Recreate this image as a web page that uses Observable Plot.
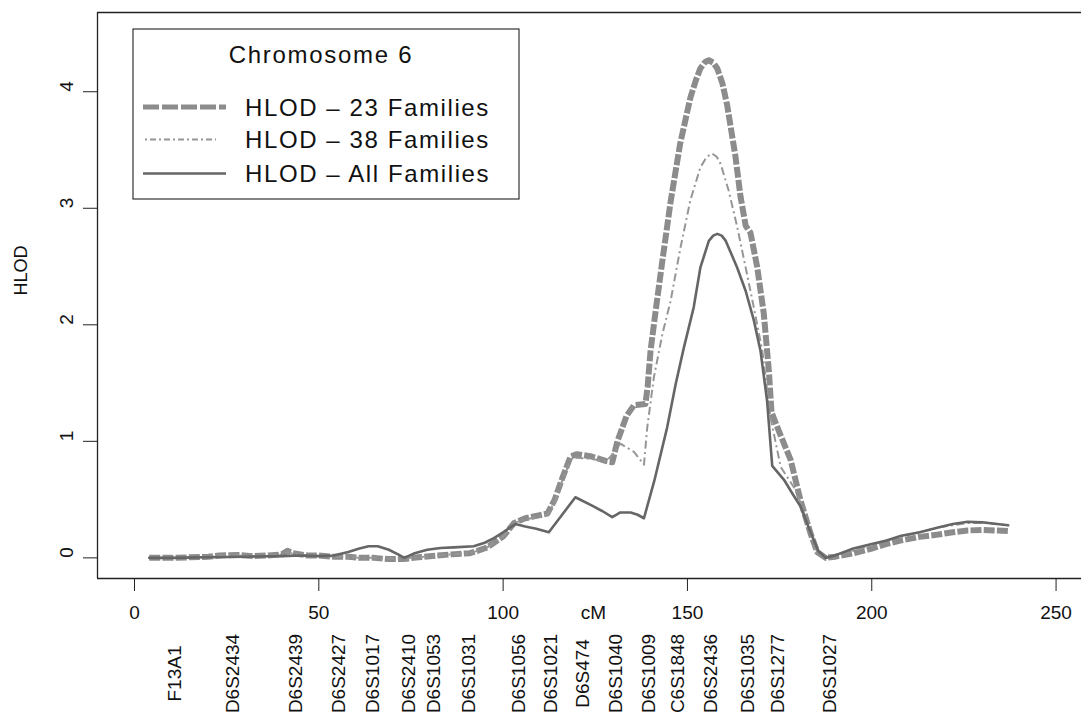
<!DOCTYPE html>
<html>
<head>
<meta charset="utf-8">
<script src="https://cdn.jsdelivr.net/npm/d3@7"></script>
<script src="https://cdn.jsdelivr.net/npm/@observablehq/plot@0.6"></script>
<style>
  html, body { margin: 0; padding: 0; background: #fff; }
  #chart { width: 1081px; height: 715px; }
</style>
</head>
<body>
<div id="chart"></div>
<script>
// ---- data ----
const cm23 = [4, 10, 15, 20, 23, 28, 32, 36, 40, 41.5, 43, 47, 50, 54, 58, 61, 65, 68.6, 73, 77, 82, 86, 91, 93, 95.7, 98, 100.2, 103, 106, 109, 112, 114, 116, 118.3, 120, 124, 128, 129.6, 131, 133.5, 135.5, 138.6, 139.2, 140, 141.5, 143.2, 145.4, 148, 150.8, 152.3, 153.5, 154.8, 155.8, 157, 158.1, 159.5, 160.8, 163, 164.4, 165.8, 167.1, 168.9, 170.7, 172.1, 172.8, 174.4, 178, 180.7, 183.4, 185.2, 187.5, 190, 195, 200, 204, 208, 213, 218, 222, 226, 230, 234, 237];
const hlod23 = [0, 0, 0.005, 0.01, 0.02, 0.025, 0.015, 0.02, 0.03, 0.06, 0.04, 0.02, 0.02, 0.01, 0.01, 0, 0, -0.01, -0.01, 0.005, 0.02, 0.03, 0.04, 0.06, 0.09, 0.14, 0.19, 0.3, 0.34, 0.36, 0.38, 0.5, 0.68, 0.87, 0.89, 0.87, 0.83, 0.82, 1.0, 1.22, 1.31, 1.32, 1.47, 1.78, 2.15, 2.55, 3.05, 3.55, 3.95, 4.1, 4.2, 4.255, 4.27, 4.25, 4.2, 4.07, 3.88, 3.45, 3.1, 2.85, 2.79, 2.5, 2.1, 1.6, 1.25, 1.12, 0.84, 0.49, 0.21, 0.05, 0, 0.01, 0.04, 0.08, 0.12, 0.15, 0.18, 0.2, 0.22, 0.235, 0.24, 0.235, 0.23];

const cm38 = [4, 10, 15, 20, 23, 28, 32, 36, 40, 41.5, 43, 47, 50, 54, 58, 61, 65, 68.6, 73, 77, 82, 86, 91, 93, 95.7, 98, 100.2, 103, 106, 109, 112, 114, 116, 118.3, 120, 124, 128, 130, 131.8, 135.5, 138.2, 139.1, 140.9, 143.2, 145.4, 148.1, 150.8, 153.5, 155.2, 156.7, 158, 159, 161.2, 163.5, 165.8, 168, 170.3, 172.5, 175.3, 179, 181, 183.4, 185.2, 187.5, 190, 195, 200, 204, 208, 213, 218, 222, 226, 230, 234, 237];
const hlod38 = [0, 0, 0.005, 0.01, 0.02, 0.02, 0.015, 0.02, 0.03, 0.05, 0.035, 0.02, 0.02, 0.01, 0.01, 0, 0, -0.005, -0.005, 0.005, 0.02, 0.03, 0.04, 0.06, 0.09, 0.14, 0.19, 0.3, 0.33, 0.35, 0.37, 0.48, 0.66, 0.84, 0.86, 0.85, 0.83, 0.9, 0.98, 0.91, 0.8, 1.12, 1.55, 1.92, 2.2, 2.66, 3.07, 3.35, 3.44, 3.47, 3.44, 3.38, 3.15, 2.84, 2.49, 2.15, 1.78, 1.21, 0.78, 0.6, 0.45, 0.2, 0.05, 0, 0.02, 0.06, 0.11, 0.15, 0.18, 0.22, 0.26, 0.28, 0.3, 0.3, 0.29, 0.28];

const cmAll = [4, 10, 20, 30, 40, 45, 50, 54, 58, 61, 63.5, 66, 69, 71.5, 73.2, 76, 79.4, 83, 86.6, 92, 95, 97.5, 100, 103.3, 106, 109, 112.4, 116, 119.6, 124, 127, 129.6, 131.8, 134.6, 136.5, 138.2, 141, 144.5, 146.8, 149, 151.7, 153.5, 155.8, 157, 158.1, 159.3, 160.4, 163.5, 165.8, 168, 169.8, 171.6, 173, 176.2, 178.5, 180.7, 183.4, 185.5, 187.5, 190, 195, 200, 204, 208, 213, 218, 222, 226, 230, 234, 237];
const hlodAll = [0, 0, 0.005, 0.01, 0.015, 0.02, 0.015, 0.02, 0.05, 0.08, 0.1, 0.1, 0.07, 0.03, 0, 0.04, 0.07, 0.085, 0.09, 0.1, 0.13, 0.17, 0.22, 0.29, 0.27, 0.25, 0.22, 0.37, 0.52, 0.45, 0.4, 0.35, 0.39, 0.39, 0.37, 0.34, 0.66, 1.12, 1.49, 1.8, 2.15, 2.49, 2.72, 2.765, 2.78, 2.765, 2.72, 2.49, 2.29, 2.04, 1.78, 1.35, 0.79, 0.67, 0.55, 0.44, 0.22, 0.06, 0, 0.02, 0.08, 0.12, 0.15, 0.19, 0.22, 0.26, 0.29, 0.31, 0.305, 0.29, 0.28];

const markerNames = ["F13A1", "D6S2434", "D6S2439", "D6S2427", "D6S1017", "D6S2410", "D6S1053", "D6S1031", "D6S1056", "D6S1021", "D6S474", "D6S1040", "D6S1009", "C6S1848", "D6S2436", "D6S1035", "D6S1277", "D6S1027"];
const markerCM = [12.5, 28.3, 45.5, 57.2, 66.2, 76.2, 83, 92.5, 106, 114.7, 123.3, 132.3, 141.3, 149, 158.1, 168, 176.2, 190.2];

const xTicks = [0, 50, 100, 150, 200, 250];
const yTicks = [0, 1, 2, 3, 4];
const xLabel = "cM";
const xLabelAt = 124.5;
const yLabel = "HLOD";
const legendTitle = "Chromosome 6";
const seriesNames = ["HLOD \u2013 23 Families", "HLOD \u2013 38 Families", "HLOD \u2013 All Families"];

// ---- build tables ----
const d23 = cm23.map((c, i) => ({cM: c, hlod: hlod23[i]}));
const d38 = cm38.map((c, i) => ({cM: c, hlod: hlod38[i]}));
const dAll = cmAll.map((c, i) => ({cM: c, hlod: hlodAll[i]}));
const markers = markerNames.map((n, i) => ({name: n, cM: markerCM[i]}));

const xDomain = [-10.04, 256.9];
const yDomain = [-0.177, 4.68];

const styles = [
  {stroke: "#8c8c8c", strokeWidth: 6, strokeDasharray: "11,2.2"},
  {stroke: "#969696", strokeWidth: 2, strokeDasharray: "8,3.5,2,3.5"},
  {stroke: "#666666", strokeWidth: 2.6}
];

const FONT = "'Liberation Sans', Arial, Helvetica, sans-serif";

const chart = Plot.plot({
  width: 1081,
  height: 715,
  marginLeft: 97,
  marginRight: 0,
  marginTop: 12,
  marginBottom: 137,
  style: {fontFamily: FONT, background: "white", color: "#1a1a1a", overflow: "visible"},
  x: {domain: xDomain, ticks: xTicks, tickSize: 13, tickFormat: () => "", label: null},
  y: {domain: yDomain, ticks: yTicks, tickSize: 14, tickFormat: () => "", label: null},
  marks: [
    Plot.ruleX([xDomain[0]], {stroke: "#222", strokeWidth: 1.3}),
    Plot.ruleY([yDomain[0]], {stroke: "#222", strokeWidth: 1.3}),
    Plot.ruleY([yDomain[1]], {stroke: "#222", strokeWidth: 1.3}),
    Plot.line(d23, {x: "cM", y: "hlod", ...styles[0], strokeLinecap: "butt", strokeLinejoin: "round"}),
    Plot.line(d38, {x: "cM", y: "hlod", ...styles[1], strokeLinecap: "butt", strokeLinejoin: "round"}),
    Plot.line(dAll, {x: "cM", y: "hlod", ...styles[2], strokeLinejoin: "round"}),
    Plot.text(xTicks, {x: d => d, text: d => String(d), frameAnchor: "bottom", dy: 40, fontSize: 19, fill: "#111", ariaLabel: "xticklabels"}),
    Plot.text([xLabel], {x: () => xLabelAt, text: d => d, frameAnchor: "bottom", dy: 40, fontSize: 19, fill: "#111", ariaLabel: "xlabel"}),
    Plot.text(yTicks, {y: d => d, text: d => String(d), frameAnchor: "left", dx: -31, rotate: -90, fontSize: 19, fill: "#111"}),
    Plot.text([yLabel], {text: d => d, frameAnchor: "left", dx: -76, rotate: -90, fontSize: 18, fill: "#111"}),
    Plot.text(markers, {x: "cM", text: "name", frameAnchor: "bottom", dy: 95, rotate: -90, fontSize: 19, fill: "#111"})
  ]
});

const svg = d3.select(chart);
svg.selectAll('g[aria-label="xticklabels"] text, g[aria-label="xlabel"] text').style("letter-spacing", "2px");
svg.selectAll('g[aria-label="x-axis tick"] path, g[aria-label="y-axis tick"] path').attr("stroke", "#222");

// ---- legend (inside plot area) ----
const lg = svg.append("g").attr("font-family", FONT).attr("text-anchor", "start");
lg.append("rect").attr("x", 133).attr("y", 29).attr("width", 386).attr("height", 170)
  .attr("fill", "white").attr("stroke", "#333").attr("stroke-width", 1.2);
lg.append("text").attr("x", 321).attr("y", 63).attr("text-anchor", "middle")
  .attr("font-size", 24).attr("fill", "#111").style("letter-spacing", "1.7px").text(legendTitle);
const rowY = [107, 139.5, 173.5];
seriesNames.forEach((name, i) => {
  const s = styles[i];
  lg.append("line").attr("x1", i === 1 ? 145 : 143).attr("x2", i === 1 ? 216 : 226)
    .attr("y1", rowY[i]).attr("y2", rowY[i])
    .attr("stroke", s.stroke).attr("stroke-width", i === 0 ? 5 : s.strokeWidth)
    .attr("stroke-dasharray", i === 0 ? "16,3" : (i === 1 ? "2,3,6,3" : null));
  lg.append("text").attr("x", 245).attr("y", rowY[i] + 8.5).attr("text-anchor", "start")
    .attr("font-size", 24).attr("fill", "#111").style("letter-spacing", "1.6px").text(name);
});

document.getElementById("chart").appendChild(chart);
</script>
</body>
</html>
